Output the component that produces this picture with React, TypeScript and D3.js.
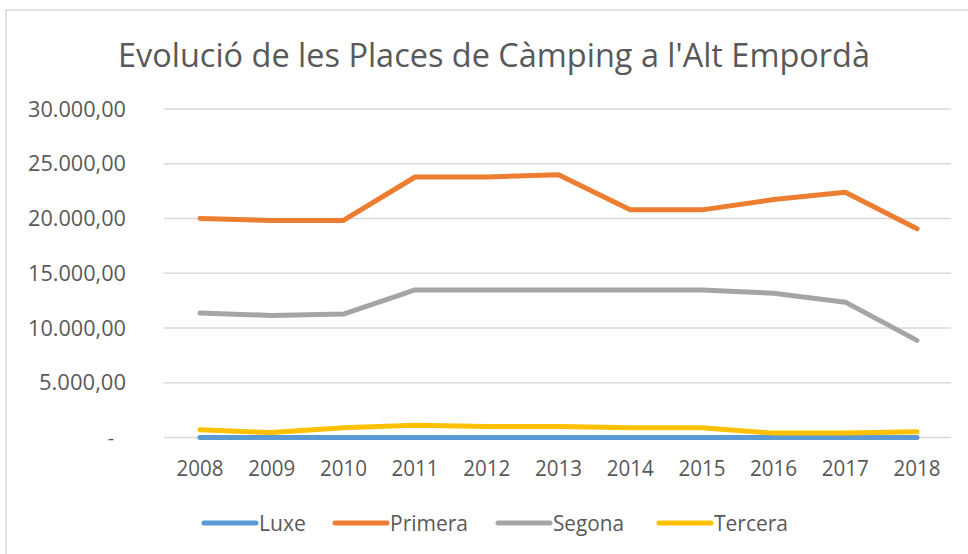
import React from "react";
import * as d3 from "d3";

const years = ["2008", "2009", "2010", "2011", "2012", "2013", "2014", "2015", "2016", "2017", "2018"];
const luxe = [0, 0, 0, 0, 0, 0, 0, 0, 0, 0, 0];
const primera = [20000, 19820, 19820, 23790, 23790, 24000, 20790, 20790, 21730, 22390, 19060];
const segona = [11360, 11150, 11270, 13480, 13480, 13480, 13480, 13480, 13180, 12360, 8870];
const tercera = [700, 450, 900, 1130, 1000, 1000, 880, 880, 400, 400, 520];
const yTicks = [0, 5000, 10000, 15000, 20000, 25000, 30000];
const yTickLabels = ["-", "5.000,00", "10.000,00", "15.000,00", "20.000,00", "25.000,00", "30.000,00"];
const seriesNames = ["Luxe", "Primera", "Segona", "Tercera"];
const seriesColors = ["#5B9BD5", "#ED7D31", "#A5A5A5", "#FFC000"];
const title = "Evolució de les Places de Càmping a l'Alt Empordà";

const seriesValues = [luxe, primera, segona, tercera];

export default function App() {
  const W = 968, H = 554;
  const x = d3.scalePoint<string>().domain(years).range([200, 917]);
  const y = d3.scaleLinear().domain([0, 30000]).range([437.5, 109]);
  const line = d3.line<number>().x((_, i) => x(years[i]) as number).y((d) => y(d));
  const font = "'Open Sans', 'Noto Sans', sans-serif";
  const txt = "#595959";

  const legendX = [202, 333, 496, 657];
  const legendTextLen = [47, 78, 71, 74];

  return (
    <svg width={W} height={H} style={{ position: "absolute", left: 0, top: 0, background: "#fff" }}>
      <rect x={0} y={0} width={W} height={H} fill="#fff" />
      <rect x={6} y={10} width={W + 20} height={H + 20} fill="#fff" stroke="#D9D9D9" strokeWidth={1.5} />
      <text x={118} y={67} textAnchor="start" fontFamily={font} fontSize={33} fill={txt} textLength={752} lengthAdjust="spacingAndGlyphs">
        {title}
      </text>
      {yTicks.map((t, i) => (
        <g key={t}>
          <line x1={164} x2={951} y1={y(t)} y2={y(t)} stroke="#D9D9D9" strokeWidth={1.5} />
          {t === 0 ? (
            <text x={111} y={y(t)} dy="0.35em" textAnchor="middle" fontFamily={font} fontSize={20} fill={txt}>
              {yTickLabels[i]}
            </text>
          ) : (
            <text x={126} y={y(t) + 7.5} textAnchor="end" fontFamily={font} fontSize={21} fill={txt}
              textLength={yTickLabels[i].length === 9 ? 98 : 87} lengthAdjust="spacingAndGlyphs">
              {yTickLabels[i]}
            </text>
          )}
        </g>
      ))}
      {years.map((yr) => (
        <text key={yr} x={x(yr)} y={476} textAnchor="middle" fontFamily={font} fontSize={21} fill={txt}
          textLength={47} lengthAdjust="spacingAndGlyphs">
          {yr}
        </text>
      ))}
      {seriesValues.map((vals, i) => (
        <path key={seriesNames[i]} d={line(vals) || ""} fill="none" stroke={seriesColors[i]} strokeWidth={5}
          strokeLinejoin="round" strokeLinecap="round" />
      ))}
      {seriesNames.map((n, i) => (
        <g key={n}>
          <line x1={legendX[i] + 2} x2={legendX[i] + 54} y1={523} y2={523} stroke={seriesColors[i]} strokeWidth={5} strokeLinecap="round" />
          <text x={legendX[i] + 57} y={530.5} fontFamily={font} fontSize={21} fill={txt}
            textLength={legendTextLen[i]} lengthAdjust="spacingAndGlyphs">
            {n}
          </text>
        </g>
      ))}
    </svg>
  );
}
